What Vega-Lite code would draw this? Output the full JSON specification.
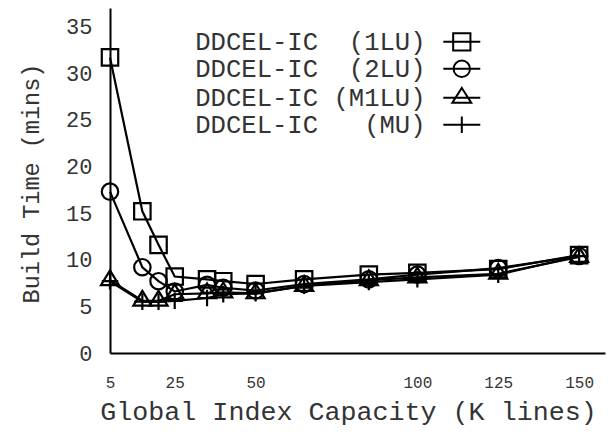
{
  "$schema": "https://vega.github.io/schema/vega-lite/v6.json",
  "width": 495,
  "height": 345,
  "autosize": {"type": "none"},
  "padding": {"left": 110, "top": 8, "right": 6, "bottom": 84},
  "background": "white",
  "config": {"view": {"stroke": null}, "font": "Liberation Mono"},
  "data": {"values": [
    {"x": 5, "s": "1LU", "y": 31.7}, {"x": 15, "s": "1LU", "y": 15.2}, {"x": 20, "s": "1LU", "y": 11.6}, {"x": 25, "s": "1LU", "y": 8.2},
    {"x": 35, "s": "1LU", "y": 7.9}, {"x": 40, "s": "1LU", "y": 7.7}, {"x": 50, "s": "1LU", "y": 7.4}, {"x": 65, "s": "1LU", "y": 7.9},
    {"x": 85, "s": "1LU", "y": 8.4}, {"x": 100, "s": "1LU", "y": 8.6}, {"x": 125, "s": "1LU", "y": 9.0}, {"x": 150, "s": "1LU", "y": 10.5},
    {"x": 5, "s": "2LU", "y": 17.3}, {"x": 15, "s": "2LU", "y": 9.2}, {"x": 20, "s": "2LU", "y": 7.7}, {"x": 25, "s": "2LU", "y": 6.6},
    {"x": 35, "s": "2LU", "y": 7.3}, {"x": 40, "s": "2LU", "y": 7.0}, {"x": 50, "s": "2LU", "y": 6.7}, {"x": 65, "s": "2LU", "y": 7.4},
    {"x": 85, "s": "2LU", "y": 7.9}, {"x": 100, "s": "2LU", "y": 8.4}, {"x": 125, "s": "2LU", "y": 9.1}, {"x": 150, "s": "2LU", "y": 10.4},
    {"x": 5, "s": "M1LU", "y": 7.8}, {"x": 15, "s": "M1LU", "y": 5.6}, {"x": 20, "s": "M1LU", "y": 5.6}, {"x": 25, "s": "M1LU", "y": 6.3},
    {"x": 35, "s": "M1LU", "y": 6.4}, {"x": 40, "s": "M1LU", "y": 6.5}, {"x": 50, "s": "M1LU", "y": 6.4}, {"x": 65, "s": "M1LU", "y": 7.2},
    {"x": 85, "s": "M1LU", "y": 7.8}, {"x": 100, "s": "M1LU", "y": 8.1}, {"x": 125, "s": "M1LU", "y": 8.5}, {"x": 150, "s": "M1LU", "y": 10.3},
    {"x": 5, "s": "MU", "y": 7.7}, {"x": 15, "s": "MU", "y": 5.5}, {"x": 20, "s": "MU", "y": 5.5}, {"x": 25, "s": "MU", "y": 5.6},
    {"x": 35, "s": "MU", "y": 5.9}, {"x": 40, "s": "MU", "y": 6.3}, {"x": 50, "s": "MU", "y": 6.4}, {"x": 65, "s": "MU", "y": 7.2},
    {"x": 85, "s": "MU", "y": 7.6}, {"x": 100, "s": "MU", "y": 7.9}, {"x": 125, "s": "MU", "y": 8.4}, {"x": 150, "s": "MU", "y": 10.4}
  ]},
  "encoding": {
    "x": {"field": "x", "type": "quantitative",
      "scale": {"domain": [5, 158], "nice": false, "zero": false},
      "axis": {"values": [5, 25, 50, 100, 125, 150], "domainColor": "black", "domainWidth": 2, "ticks": false, "grid": false,
        "labelFont": "Liberation Mono", "labelFontSize": 16, "labelColor": "#333", "labelPadding": 21, "labelFlush": false,
        "title": "Global Index Capacity (K lines)", "titleFont": "Liberation Mono", "titleFontSize": 26.7, "titleFontWeight": "normal",
        "titleColor": "#333", "titleX": 238, "titleY": 58, "titleAlign": "center", "titleBaseline": "middle"}},
    "y": {"field": "y", "type": "quantitative",
      "scale": {"domain": [0, 37], "nice": false},
      "axis": {"values": [0, 5, 10, 15, 20, 25, 30, 35], "domainColor": "black", "domainWidth": 2, "ticks": false, "grid": false,
        "labelFont": "Liberation Mono", "labelFontSize": 22, "labelColor": "#333", "labelPadding": 18, "labelFlush": false,
        "title": "Build Time (mins)", "titleFont": "Liberation Mono", "titleFontSize": 23.5, "titleFontWeight": "normal",
        "titleColor": "#333", "titleX": -79, "titleY": 175, "titleAngle": 270, "titleAlign": "center", "titleBaseline": "middle"}}
  },
  "resolve": {"scale": {"shape": "independent"}, "legend": {"shape": "independent"}},
  "layer": [
    {"mark": {"type": "line", "color": "black", "strokeWidth": 2.2},
     "encoding": {"detail": {"field": "s"}}},
    {"mark": {"type": "point", "filled": false, "stroke": "black", "strokeWidth": 2.2, "size": 270, "opacity": 1},
     "encoding": {"shape": {"field": "s", "type": "nominal",
       "scale": {"domain": ["1LU", "2LU", "M1LU", "MU"], "range": ["square", "circle", "M0,-1.2L1.1,0.6H-1.1Z", "M-1,0H1M0,-1V1"]},
       "legend": null}}},
    {"transform": [{"filter": "false"}],
     "mark": {"type": "point", "filled": false, "stroke": "black", "strokeWidth": 2, "size": 270, "opacity": 1},
     "encoding": {"shape": {"field": "s", "type": "nominal",
       "scale": {"domain": ["1LU", "2LU", "M1LU", "MU"], "range": [
         "M-2.25,0H2.25M-1.05,-1.05H1.05V1.05H-1.05Z",
         "M-2.25,0H2.25M1,0A1,1,0,1,1,-1,0A1,1,0,1,1,1,0Z",
         "M-2.25,0H2.25M0,-1.2L1.15,0.6H-1.15Z",
         "M-2.25,0H2.25M0,-1V1"]},
       "legend": {"orient": "none", "legendX": 339, "legendY": 21, "title": null, "padding": 0,
         "labelFont": "Liberation Mono", "labelFontSize": 25.6, "labelColor": "#333", "labelAlign": "right", "labelOffset": -49, "labelLimit": 0,
         "rowPadding": 0, "symbolSize": 270, "symbolStrokeWidth": 2, "symbolStrokeColor": "black", "symbolFillColor": "transparent",
         "labelExpr": "datum.label == '1LU' ? 'DDCEL-IC\u00a0\u00a0(1LU)' : datum.label == '2LU' ? 'DDCEL-IC\u00a0\u00a0(2LU)' : datum.label == 'M1LU' ? 'DDCEL-IC\u00a0(M1LU)' : 'DDCEL-IC\u00a0\u00a0\u00a0(MU)'"}}}},
    {"data": {"values": [{}]},
     "mark": {"type": "point", "shape": "triangle-up", "filled": true, "color": "black", "size": 100, "opacity": 1},
     "encoding": {"x": {"datum": 5, "type": "quantitative"}, "y": {"datum": 36.6, "type": "quantitative"}}},
    {"data": {"values": [{}]},
     "mark": {"type": "point", "shape": "triangle-right", "filled": true, "color": "black", "size": 100, "opacity": 1},
     "encoding": {"x": {"datum": 156.5, "type": "quantitative"}, "y": {"datum": 0, "type": "quantitative"}}}
  ]
}
